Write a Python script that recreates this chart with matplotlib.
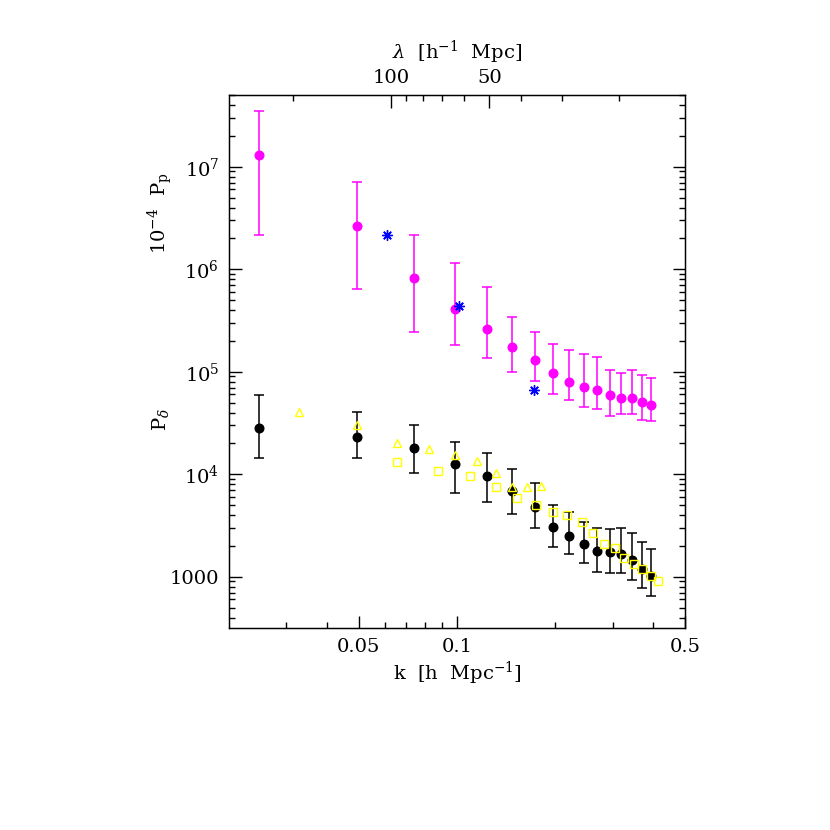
import numpy as np
import matplotlib
matplotlib.use("Agg")
import matplotlib.pyplot as plt
from matplotlib.ticker import FixedLocator, NullFormatter

plt.rcParams['font.family'] = ['DejaVu Serif']
plt.rcParams['mathtext.fontset'] = 'dejavuserif'

# wavenumbers shared by both binned spectra
k = [0.0247, 0.0492, 0.0736, 0.0988, 0.1233, 0.1472, 0.1731, 0.1966,
     0.2211, 0.2453, 0.2694, 0.2953, 0.3185, 0.3442, 0.3687, 0.3937]

# density power spectrum (black)
p_delta = [28000, 23200, 18000, 12560, 9520, 6840, 4745, 3060,
           2500, 2090, 1800, 1734, 1670, 1459, 1202, 1027]
p_delta_hi = [59600, 40600, 30300, 20700, 15960, 11140, 8240, 4990,
              4236, 3383, 3000, 2911, 2958, 2660, 2188, 1885]
p_delta_lo = [14450, 14450, 10200, 6495, 5370, 4140, 3000, 1960,
              1685, 1364, 1114, 1099, 1082, 924, 777, 645]

# 10^-4 P_p (magenta)
p_p = [1.297e7, 2.65e6, 8.28e5, 4.09e5, 2.59e5, 1.73e5, 1.31e5, 9.7e4,
       7.98e4, 7.14e4, 6.62e4, 5.92e4, 5.57e4, 5.50e4, 5.02e4, 4.73e4]
p_p_hi = [3.52e7, 7.16e6, 2.18e6, 1.14e6, 6.67e5, 3.44e5, 2.46e5, 1.85e5,
          1.62e5, 1.48e5, 1.38e5, 1.03e5, 9.64e4, 1.03e5, 9.23e4, 8.63e4]
p_p_lo = [2.15e6, 6.47e5, 2.43e5, 1.83e5, 1.37e5, 9.86e4, 8.11e4, 6.05e4,
          5.29e4, 4.55e4, 4.32e4, 3.69e4, 3.84e4, 3.89e4, 3.37e4, 3.32e4]

# blue asterisks
k_star = [0.0611, 0.1016, 0.1722]
p_star = [2.18e6, 4.41e5, 6.62e4]

# yellow open triangles
k_tri = [0.0328, 0.0492, 0.0656, 0.0820, 0.0988, 0.1149, 0.1314, 0.1472, 0.1639, 0.1806]
p_tri = [40600, 30100, 20000, 17590, 15380, 13520, 10330, 7540, 7540, 7710]

# yellow open squares
k_sq = [0.0656, 0.0874, 0.1094, 0.1314, 0.1531, 0.1743, 0.1970, 0.2179, 0.2413,
        0.2619, 0.2830, 0.3052, 0.3260, 0.3490, 0.3702, 0.3929, 0.4145]
p_sq = [13030, 10640, 9640, 7540, 5930, 4990, 4236, 3990, 3384,
        2679, 2110, 1911, 1540, 1346, 1192, 1027, 918]

y_ticks = [1e3, 1e4, 1e5, 1e6, 1e7]
y_ticklabels = ['1000', r'$10^4$', r'$10^5$', r'$10^6$', r'$10^7$']
x_ticks = [0.05, 0.1, 0.5]
x_ticklabels = ['0.05', '0.1', '0.5']
lam_major = [100, 50]
lam_minor = [200, 90, 80, 70, 60, 40, 30, 20]

fs = 14

fig = plt.figure(figsize=(8.3, 8.3), dpi=100)
ax = fig.add_axes([229 / 830, 1 - 628 / 830, 456 / 830, 533 / 830])

pd_ = np.array(p_delta)
ax.errorbar(k, p_delta, yerr=[pd_ - np.array(p_delta_lo), np.array(p_delta_hi) - pd_],
            fmt='o', color='black', ms=6.2, elinewidth=1.1, capsize=3.4, capthick=1.1, zorder=2)
pp = np.array(p_p)
ax.errorbar(k, p_p, yerr=[pp - np.array(p_p_lo), np.array(p_p_hi) - pp],
            fmt='o', color='#ff00ff', ms=6.2, elinewidth=1.1, capsize=3.4, capthick=1.1, zorder=2)
ax.plot(k_tri, p_tri, '^', mfc='none', mec='#ffff00', ms=6.2, mew=1.0, zorder=3)
ax.plot(k_sq, p_sq, 's', mfc='none', mec='#ffff00', ms=5.4, mew=1.0, zorder=3)
ax.plot(k_star, p_star, marker=(8, 2, 0), ls='none', color='#0000ff', ms=7.5, mew=1.0, zorder=4)

ax.set_xscale('log')
ax.set_yscale('log')
ax.set_xlim(0.02, 0.5)
ax.set_ylim(10 ** 2.5, 10 ** 7.7)

ax.xaxis.set_major_locator(FixedLocator(x_ticks))
ax.set_xticklabels(x_ticklabels)
ax.xaxis.set_minor_locator(FixedLocator([0.03, 0.04, 0.06, 0.07, 0.08, 0.09, 0.2, 0.3, 0.4]))
ax.xaxis.set_minor_formatter(NullFormatter())
ax.yaxis.set_major_locator(FixedLocator(y_ticks))
ax.set_yticklabels(y_ticklabels)
ax.yaxis.set_minor_locator(FixedLocator(
    [m * 10 ** e for e in range(2, 8) for m in range(2, 10) if 10 ** 2.5 < m * 10 ** e < 10 ** 7.7]))
ax.yaxis.set_minor_formatter(NullFormatter())

ax.tick_params(which='both', direction='in', right=True, top=False, labelsize=fs, width=1)
ax.tick_params(which='major', length=9, pad=7)
ax.tick_params(which='minor', length=4.5)
for s in ax.spines.values():
    s.set_linewidth(1)

# top axis in wavelength lambda = 2 pi / k
ax2 = ax.twiny()
ax2.set_xscale('log')
ax2.set_xlim(ax.get_xlim())
ax2.xaxis.set_major_locator(FixedLocator([2 * np.pi / l for l in lam_major]))
ax2.set_xticklabels([str(l) for l in lam_major])
ax2.xaxis.set_minor_locator(FixedLocator([2 * np.pi / l for l in lam_minor]))
ax2.xaxis.set_minor_formatter(NullFormatter())
ax2.tick_params(which='both', direction='in', labelsize=fs, width=1)
ax2.tick_params(which='major', length=9, pad=6)
ax2.tick_params(which='minor', length=4.5)

ax.set_xlabel(r'k  [h  Mpc$^{-1}$]', fontsize=fs, labelpad=3)
ax2.set_xlabel(r'$\lambda$  [h$^{-1}$  Mpc]', fontsize=fs, labelpad=7)
fig.text(160 / 830, 1 - 213 / 830, r'$10^{-4}$  P$_\mathrm{p}$', rotation=90,
         ha='center', va='center', fontsize=fs)
fig.text(160 / 830, 1 - 420 / 830, r'P$_\delta$', rotation=90,
         ha='center', va='center', fontsize=fs)

fig.savefig('out.png', dpi=100)
